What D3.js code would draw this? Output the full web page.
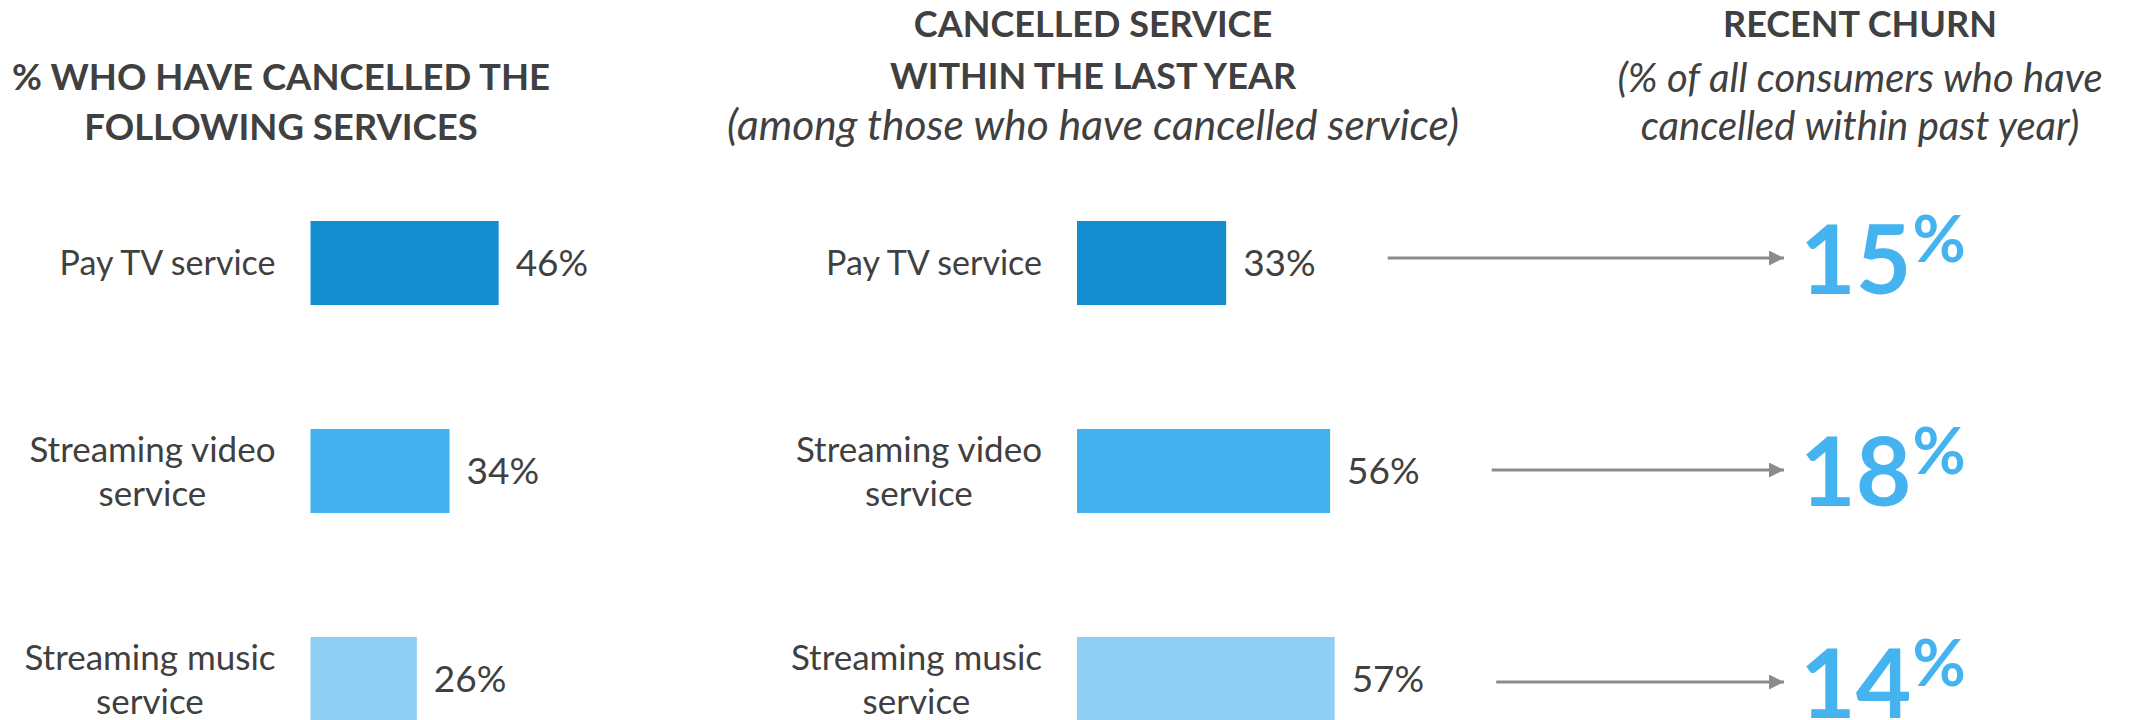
<!DOCTYPE html>
<html>
<head>
<meta charset="utf-8">
<script src="https://cdn.jsdelivr.net/npm/d3@7"></script>
<style>
  html, body { margin: 0; padding: 0; background: #ffffff; }
  svg { display: block; font-family: Lato, "Open Sans", sans-serif; }
</style>
</head>
<body>
<svg id="chart" width="2136" height="720"></svg>
<script>
// ---- data ----
const categories = ["Pay TV service", "Streaming video service", "Streaming music service"];
const categoryLines = [["Pay TV service"], ["Streaming video", "service"], ["Streaming music", "service"]];
const everCancelled = [46, 34, 26];        // % who have cancelled the service
const cancelledLastYear = [33, 56, 57];    // % of cancellers who did so within the last year
const recentChurn = [15, 18, 14];          // % of all consumers who cancelled within past year

const headerLeft = ["% WHO HAVE CANCELLED THE", "FOLLOWING SERVICES"];
const headerMiddle = ["CANCELLED SERVICE", "WITHIN THE LAST YEAR"];
const noteMiddle = ["(among those who have cancelled service)"];
const headerRight = ["RECENT CHURN"];
const noteRight = ["(% of all consumers who have", "cancelled within past year)"];

// ---- styling ----
const barColors = ["#148DD1", "#42B1EE", "#8ED0F4"];
const textColor = "#404040";
const arrowColor = "#8C8C8C";
const churnColor = "#44B3F0";

const svg = d3.select("#chart");
svg.append("rect").attr("width", 2136).attr("height", 720).attr("fill", "#ffffff");

// ---- scales ----
const y = d3.scaleBand()
  .domain(categories)
  .range([221, 721])
  .paddingInner(0.596)
  .paddingOuter(0);

// the churn column sits on its own, slightly wider row spacing
const yChurn = d3.scalePoint().domain(categories).range([258, 682]);

const xLeft = d3.scaleLinear().domain([0, 100]).range([310.5, 719.5]);
const xMid = d3.scaleLinear().domain([0, 100]).range([1077, 1529]);

const rowCenter = i => y(categories[i]) + y.bandwidth() / 2;

// ---- one bar panel: bars, value labels, category labels ----
function drawPanel(x, values) {
  const g = svg.append("g");

  g.selectAll("rect.bar")
    .data(values)
    .join("rect")
    .attr("class", "bar")
    .attr("x", x(0))
    .attr("y", (d, i) => y(categories[i]))
    .attr("width", d => x(d) - x(0))
    .attr("height", y.bandwidth())
    .attr("fill", (d, i) => barColors[i]);

  const valueLabels = g.selectAll("text.value")
    .data(values)
    .join("text")
    .attr("class", "value")
    .attr("x", d => x(d) + 17)
    .attr("y", (d, i) => rowCenter(i))
    .attr("dy", "0.36em")
    .attr("font-size", 37)
    .attr("fill", textColor)
    .text(d => d + "%");

  // category labels: lines centred within their block, block right-aligned to the bars
  categoryLines.forEach((lines, i) => {
    const fs = lines.length > 1 ? 35 : 34;
    const lineH = 44;
    const t = g.append("text")
      .attr("font-size", fs)
      .attr("fill", textColor)
      .attr("text-anchor", "middle");
    const spans = lines.map((line, k) =>
      t.append("tspan")
        .attr("y", rowCenter(i) + 0.36 * fs + (k - (lines.length - 1) / 2) * lineH)
        .text(line));
    const blockW = d3.max(spans, s => s.node().getComputedTextLength());
    const cx = x(0) - 35 - blockW / 2;
    spans.forEach(s => s.attr("x", cx));
  });

  return valueLabels;
}

drawPanel(xLeft, everCancelled);
const midLabels = drawPanel(xMid, cancelledLastYear);

// ---- headers ----
function header(lines, cx, baselines, opts) {
  const t = svg.append("text")
    .attr("text-anchor", "middle")
    .attr("font-size", opts.size)
    .attr("font-weight", opts.weight || "normal")
    .attr("font-style", opts.style || "normal")
    .attr("fill", textColor);
  lines.forEach((line, k) => {
    t.append("tspan").attr("x", cx).attr("y", baselines[k]).text(line);
  });
}

header(headerLeft, 281, [90, 140], { size: 36.5, weight: "bold" });
header(headerMiddle, 1093, [37, 89], { size: 36, weight: "bold" });
header(noteMiddle, 1093, [140], { size: 42.5, style: "italic" });
header(headerRight, 1860, [37], { size: 36, weight: "bold" });
header(noteRight, 1860, [92, 140], { size: 40, style: "italic" });

// ---- arrows to recent churn ----
svg.append("defs").append("marker")
  .attr("id", "arrowhead")
  .attr("viewBox", "0 0 15 15")
  .attr("refX", 15)
  .attr("refY", 7.5)
  .attr("markerWidth", 15)
  .attr("markerHeight", 15)
  .attr("markerUnits", "userSpaceOnUse")
  .attr("orient", "auto")
  .append("path")
  .attr("d", "M0,0L15,7.5L0,15Z")
  .attr("fill", arrowColor);

const churnX = 1800;
const labelEnds = midLabels.nodes().map((n, i) => xMid(cancelledLastYear[i]) + 17 + n.getComputedTextLength());

svg.append("g").selectAll("line")
  .data(recentChurn)
  .join("line")
  .attr("x1", (d, i) => labelEnds[i] + 72)
  .attr("x2", churnX - 16)
  .attr("y1", (d, i) => yChurn(categories[i]))
  .attr("y2", (d, i) => yChurn(categories[i]))
  .attr("stroke", arrowColor)
  .attr("stroke-width", 3)
  .attr("marker-end", "url(#arrowhead)");

// ---- recent churn figures ----
const churn = svg.append("g").selectAll("text")
  .data(recentChurn)
  .join("text")
  .attr("x", churnX)
  .attr("y", (d, i) => yChurn(categories[i]) + 1)
  .attr("dy", "0.36em")
  .attr("font-size", 96)
  .attr("font-weight", "bold")
  .attr("fill", churnColor);

churn.append("tspan").text(d => d);
churn.append("tspan")
  .attr("font-size", 65)
  .attr("dx", 1)
  .attr("dy", -32)
  .text("%");
</script>
</body>
</html>
